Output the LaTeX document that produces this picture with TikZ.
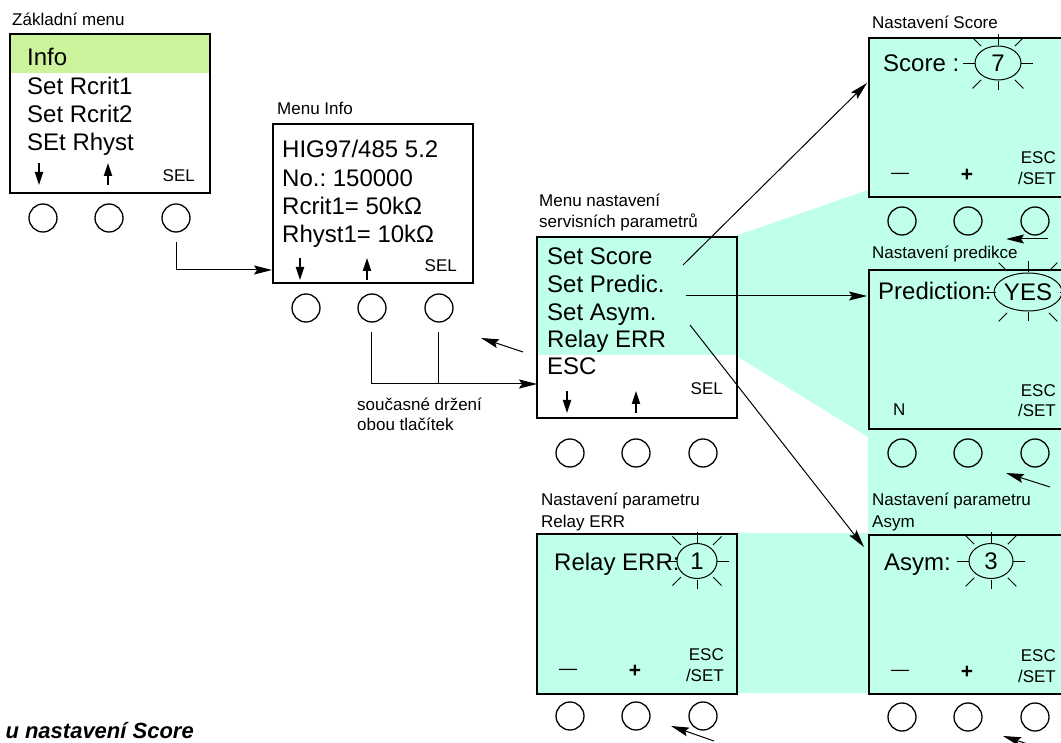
\documentclass[tikz,border=0pt]{standalone}
\usepackage{fontspec}
\setmainfont{Liberation Sans}
\usetikzlibrary{arrows.meta,shapes.geometric}
\definecolor{cyanbg}{RGB}{191,255,236}
\definecolor{greenhl}{RGB}{204,242,155}
\frenchspacing
\tikzset{
 lbl/.style={anchor=base west, inner sep=0, font=\fontsize{17}{20}\selectfont},
 lble/.style={anchor=base east, inner sep=0, font=\fontsize{17}{20}\selectfont},
 big/.style={anchor=base west, inner sep=0, font=\fontsize{24}{28}\selectfont},
 scr/.style={draw, line width=1.6pt, minimum width=200pt, anchor=north west, inner sep=0},
 btn/.style={draw, circle, line width=1.3pt, minimum size=28pt, inner sep=0},
 conn/.style={line width=1pt, -{Stealth[length=18pt,width=9pt,inset=3pt]}},
 ray/.style={line width=0.9pt},
 navarrow/.style={line width=1.8pt, -{Triangle[length=13pt,width=8pt]}},
 sunell/.style={draw, ellipse, line width=1pt, inner sep=0, font=\fontsize{24}{28}\selectfont},
 dashlbl/.style={inner sep=0, font=\fontsize{18}{20}\selectfont},
 pluslbl/.style={inner sep=0, font=\fontsize{21}{24}\selectfont\bfseries},
}
% name, left, top, height, button row y
\newcommand\screenbox[5]{%
 \node[scr, minimum height=#4pt] (#1) at (#2,#3) {};
 \foreach \k/\dx in {1/34,2/100,3/167} {\node[btn] (#1-b\k) at ({#2+\dx},#5) {};}
}
% name, cx, cy, rx, ry, text
\newcommand\blinkval[6]{%
 \node[sunell, minimum width={2*#4}, minimum height={2*#5}] (#1) at (#2,#3) {#6};
 \pgfmathsetmacro\dA{((#4+#5)/2+4)*0.7071}%
 \pgfmathsetmacro\dB{((#4+#5)/2+16)*0.7071}%
 \draw[ray] ({#2+#4},#3) -- ({#2+#4+12},#3);
 \draw[ray] ({#2-#4},#3) -- ({#2-#4-12},#3);
 \draw[ray] (#2,{#3-#5-1}) -- (#2,{#3-#5-12});
 \draw[ray] (#2,{#3+#5+1}) -- (#2,{#3+#5+10});
 \foreach \sx/\sy in {1/1,1/-1,-1/1,-1/-1} {\draw[ray] ({#2+\sx*\dA},{#3+\sy*\dA}) -- ({#2+\sx*\dB},{#3+\sy*\dB});}
}
% name, x down, x up, y top, y bottom
\newcommand\navpair[5]{%
 \coordinate (#1-d1) at (#2,#4); \coordinate (#1-d2) at (#2,#5);
 \coordinate (#1-u1) at (#3,#5); \coordinate (#1-u2) at (#3,#4);
 \draw[navarrow] (#1-d1) -- (#1-d2);
 \draw[navarrow] (#1-u1) -- (#1-u2);
}
% name, left, top
\newcommand\keyrow[3]{%
 \node[dashlbl] (#1-minus) at ({#2+32},{#3+139}) {—};
 \node[pluslbl] (#1-plus) at ({#2+99},{#3+138}) {+};
 \node[lble] (#1-esc) at ({#2+188},{#3+127}) {ESC};
 \node[lble] (#1-set) at ({#2+188},{#3+148}) {/SET};
}
\begin{document}
\begin{tikzpicture}[x=1pt,y=-1pt]
\useasboundingbox (0,0) rectangle (1061,743);
% backgrounds
\fill[greenhl] (9,33) rectangle (209,73);
\fill[cyanbg] (536,236) -- (735,236) -- (868,190) -- (868,37) -- (1070,37) -- (1070,693)
  -- (536,693) -- (536,533) -- (868,533) -- (868,437) -- (735,355) -- (536,355) -- cycle;
% screens and buttons
\screenbox{zm}{9}{33}{159}{218}
\screenbox{mi}{272}{123}{159}{308}
\screenbox{srv}{536}{236}{181}{453}
\screenbox{sc}{868}{37}{159}{221}
\screenbox{pr}{868}{269}{159}{453}
\screenbox{re}{536}{533}{160}{716}
\screenbox{as}{868}{534}{159}{717}
% Zakladni menu
\node[lbl] (zm-l) at (12,26) {Základní menu};
\node[big] (zm-t1) at (27,66) {Info};
\node[big] (zm-t2) at (27,95) {Set Rcrit1};
\node[big] (zm-t3) at (27,123) {Set Rcrit2};
\node[big] (zm-t4) at (27,151) {SEt Rhyst};
\node[lble] (zm-sel) at (195,182) {SEL};
\navpair{zm}{39}{108}{163}{185}
% Menu Info
\node[lbl] (mi-l) at (277,115) {Menu Info};
\node[big] (mi-t1) at (282,158) {HIG97/485 5.2};
\node[big] (mi-t2) at (282,187) {No.: 150000};
\node[big] (mi-t3) at (282,215) {Rcrit1= 50kΩ};
\node[big] (mi-t4) at (282,243) {Rhyst1= 10kΩ};
\node[lble] (mi-sel) at (457,272) {SEL};
\navpair{mi}{300}{367}{258}{280}
% Menu nastaveni servisnich parametru
\node[lbl] (srv-l1) at (539,207) {Menu nastavení};
\node[lbl] (srv-l2) at (539,228) {servisních parametrů};
\node[big] (srv-t1) at (547,265) {Set Score};
\node[big] (srv-t2) at (547,293) {Set Predic.};
\node[big] (srv-t3) at (547,321) {Set Asym.};
\node[big] (srv-t4) at (547,348) {Relay ERR};
\node[big] (srv-t5) at (547,375) {ESC};
\node[lble] (srv-sel) at (723,395) {SEL};
\navpair{srv}{567}{636}{391}{413}
% Nastaveni Score
\node[lbl] (sc-l) at (872,29) {Nastavení Score};
\node[big] (sc-t) at (883,72) {Score :};
\blinkval{sc-v}{998}{63}{23}{17}{7}
\keyrow{sc}{868}{37}
% Nastaveni predikce
\node[lbl] (pr-l) at (872,259) {Nastavení predikce};
\node[big] (pr-t) at (878,300) {Prediction:};
\blinkval{pr-v}{1028}{292}{32}{19}{YES}
\node[lbl] (pr-n) at (893,416) {N};
\node[lble] (pr-esc) at (1056,396) {ESC};
\node[lble] (pr-set) at (1056,417) {/SET};
% Relay ERR
\node[lbl] (re-l1) at (541,505) {Nastavení parametru};
\node[lbl] (re-l2) at (541,527) {Relay ERR};
\node[big] (re-t) at (554,570) {Relay ERR:};
\blinkval{re-v}{697}{561}{20}{17.5}{1}
\keyrow{re}{536}{533}
% Asym
\node[lbl] (as-l1) at (872,505) {Nastavení parametru};
\node[lbl] (as-l2) at (872,527) {Asym};
\node[big] (as-t) at (884,570) {Asym:};
\blinkval{as-v}{991}{561}{22}{17.5}{3}
\keyrow{as}{868}{534}
% hold both buttons label
\node[lbl] (hold1) at (357,410) {současné držení};
\node[lbl] (hold2) at (357,431) {obou tlačítek};
% caption
\node[anchor=base east, inner sep=0, font=\fontsize{22}{24}\selectfont\bfseries\itshape] (cap) at (194,738) {u nastavení Score};
% connectors
\coordinate (a1s) at (176,242); \coordinate (a1e) at (272,270);
\draw[conn] (a1s) |- (a1e);
\coordinate (h1) at (371,332); \coordinate (h2) at (438,332); \coordinate (h3) at (537,384);
\draw[conn] (h1) |- (h3);
\draw[line width=1pt] (h2) -- (h2 |- h3);
\coordinate (r1s) at (523,352); \coordinate (r1e) at (481,338);
\draw[conn] (r1s) -- (r1e);
\coordinate (s1) at (683,265); \coordinate (s1e) at (867,83);
\draw[conn] (s1) -- (s1e);
\coordinate (s2) at (686,296); \coordinate (s2e) at (867,296);
\draw[conn] (s2) -- (s2e);
\coordinate (s3) at (690,325); \coordinate (s3e) at (864,547);
\draw[conn] (s3) -- (s3e);
\coordinate (b1s) at (1048,239); \coordinate (b1e) at (1006,239);
\draw[conn] (b1s) -- (b1e);
\coordinate (b2s) at (1050,487); \coordinate (b2e) at (1006,473);
\draw[conn] (b2s) -- (b2e);
\coordinate (b3s) at (1046,750); \coordinate (b3e) at (1003,736);
\draw[conn] (b3s) -- (b3e);
\coordinate (b4s) at (714,741); \coordinate (b4e) at (671,726);
\draw[conn] (b4s) -- (b4e);
\end{tikzpicture}
\end{document}
